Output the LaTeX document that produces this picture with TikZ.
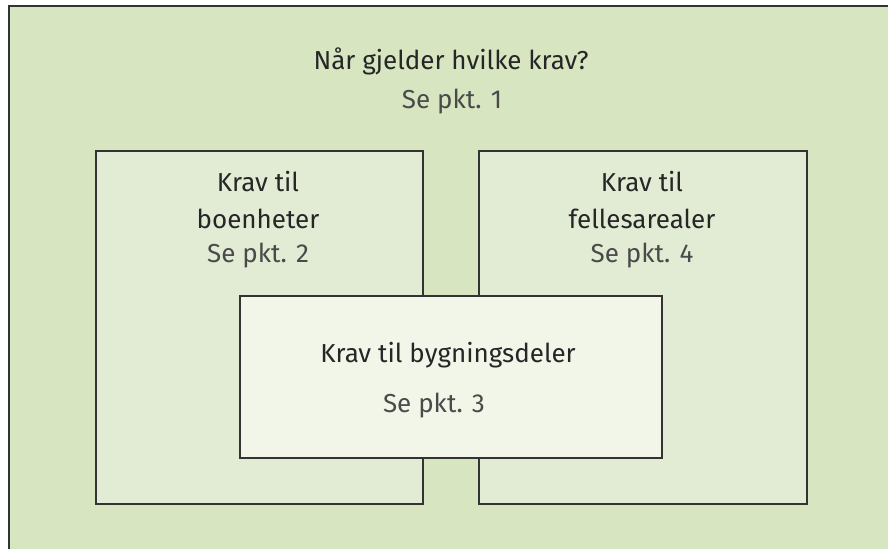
\documentclass[tikz,border=0pt]{standalone}
\usepackage{fontspec}
\setmainfont{Fira Sans}
\usetikzlibrary{positioning}

\definecolor{bgouter}{HTML}{D7E5C0}
\definecolor{bgside}{HTML}{E2ECD5}
\definecolor{bgmid}{HTML}{F1F6E9}
\definecolor{txtdark}{HTML}{262626}
\definecolor{txtgray}{HTML}{4A4A4A}

\begin{document}
\begin{tikzpicture}[x=1pt, y=-1pt,
    box/.style = {draw=black!80, line width=1.6pt},
    head/.style = {anchor=base, text=txtdark, font=\fontsize{26}{37}\selectfont, align=center},
    ref/.style = {anchor=base, text=txtgray, font=\fontsize{26}{37}\selectfont}]
      \useasboundingbox (0,0) rectangle (888,549);
      \fill[bgouter] (9,6) rectangle (888,549);
      \draw[box] (9,549) -- (9,6) -- (888,6);

      \draw[box, fill=bgside] (96,151) rectangle (423,504);
      \draw[box, fill=bgside] (479,151) rectangle (807,504);
      \draw[box, fill=bgmid] (240,296) rectangle (662,458);

      \node[head] (title) at (451,69) {Når gjelder hvilke krav?};
      \node[ref] (title ref) at (452,108) {Se pkt. 1};

      \node[head] (bolig) at (258,228) {Krav til\\boenheter};
      \node[ref] (bolig ref) at (258,262) {Se pkt. 2};

      \node[head] (felles) at (642,228) {Krav til\\fellesarealer};
      \node[ref] (felles ref) at (642,262) {Se pkt. 4};

      \node[head] (deler) at (448,362) {Krav til bygningsdeler};
      \node[ref] (deler ref) at (434,412) {Se pkt. 3};
    \end{tikzpicture}
\end{document}
